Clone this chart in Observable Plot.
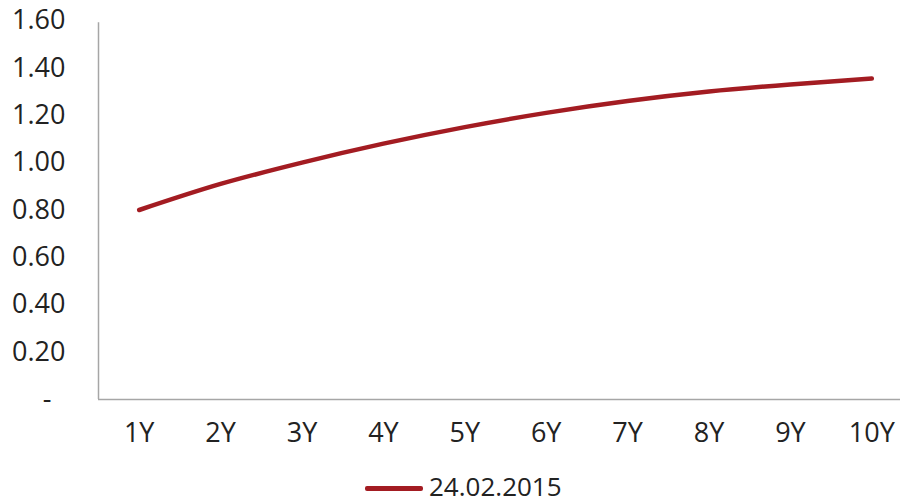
<!DOCTYPE html>
<html>
<head>
<meta charset="utf-8">
<script src="https://cdn.jsdelivr.net/npm/d3@7"></script>
<script src="https://cdn.jsdelivr.net/npm/@observablehq/plot@0.6"></script>
<style>
  html, body { margin: 0; padding: 0; background: #fff; }
  #chart { width: 900px; height: 470px; }
  .legend { height: 32px; line-height: 32px; display: flex; align-items: center; padding-left: 365px;
            font-family: "Open Sans", sans-serif; font-size: 26px; color: #222; }
  .legend .swatch { width: 58px; height: 5px; background: #a31c22; border-radius: 2px; margin-right: 6px; margin-top: 4px; }
</style>
</head>
<body>
<div id="chart"></div>
<script>
const tenors = ["1Y", "2Y", "3Y", "4Y", "5Y", "6Y", "7Y", "8Y", "9Y", "10Y"];
const yields = [0.80, 0.91, 1.00, 1.08, 1.15, 1.21, 1.26, 1.30, 1.33, 1.355];
const yTicks = [0, 0.2, 0.4, 0.6, 0.8, 1.0, 1.2, 1.4, 1.6];
const seriesName = "24.02.2015";
const lineColor = "#a31c22";

const data = tenors.map((t, i) => ({pos: i + 1, tenor: t, value: yields[i]}));

const chart = Plot.plot({
  width: 900,
  height: 470,
  marginTop: 20,
  marginBottom: 71,
  marginLeft: 98,
  marginRight: 0,
  style: {fontFamily: "Open Sans", fontSize: "27px", color: "#222", background: "#fff", display: "block"},
  x: {domain: [0.5, 10.5], range: [98, 912], axis: null},
  y: {domain: [0, 1.6], axis: null},
  marks: [
    Plot.axisX(data.map(d => d.pos), {tickSize: 0, tickPadding: 23, tickFormat: p => tenors[p - 1], fontSize: 27, fill: "#222", label: null}),
    Plot.axisY(yTicks, {tickSize: 0, tickPadding: 33, tickFormat: d => d === 0 ? "-\u00a0\u00a0" : d.toFixed(2), fontSize: 27, fill: "#222", label: null}),
    Plot.ruleX([0.5], {y1: 0, y2: 1.59, stroke: "#a6a6a6", strokeWidth: 1.5}),
    Plot.ruleY([0], {stroke: "#a6a6a6", strokeWidth: 1.5}),
    Plot.line(data, {x: "pos", y: "value", stroke: lineColor, strokeWidth: 4.5, curve: "monotone-x", strokeLinecap: "round"})
  ]
});
document.getElementById("chart").appendChild(chart);

const legend = document.createElement("div");
legend.className = "legend";
legend.innerHTML = `<span class="swatch"></span><span>${seriesName}</span>`;
document.body.appendChild(legend);
</script>
</body>
</html>
